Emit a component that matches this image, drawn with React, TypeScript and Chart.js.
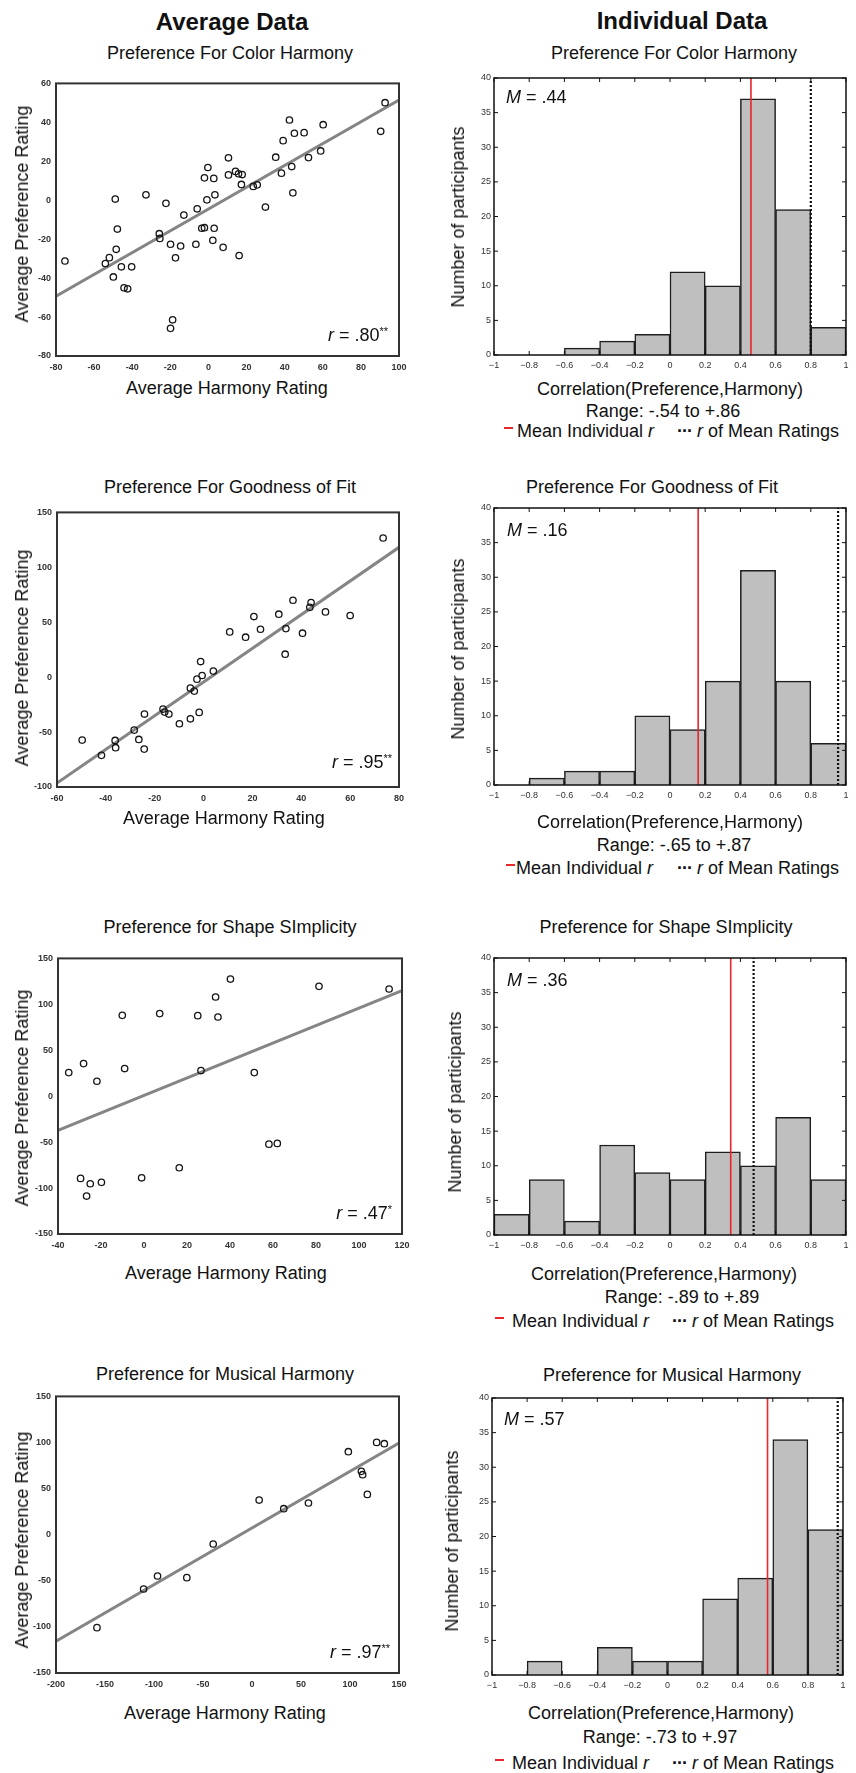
import React, { useEffect, useRef } from "react";
import { Chart, registerables } from "chart.js";
Chart.register(...registerables);

const FONT = "'Liberation Sans', Arial, Helvetica, sans-serif";

// ---------------- Average data (scatter) ----------------
const colorHarmonyX = [-75.3, 92.7, 90.4, 42.5, 60.2, 45.1, 50.2, 39.2, 58.9, 52.5, 35.3, 43.7, 38.3, 44.3, 29.9, 23.5, 25.6, 10.5, 10.5, 14.2, 15.8, 17.7, 17.3, -0.3, -2.1, 2.8, 3.4, -0.8, -5.9, -12.9, -22.3, -32.8, -48.9, -47.8, -25.8, -25.5, -19.9, -14.6, -17.3, -6.6, -3.5, -2.1, 3.0, 2.3, 7.7, 16.1, -48.4, -52.0, -54.1, -45.7, -40.3, -49.9, -44.3, -42.4, -18.8, -19.9];
const colorPreferenceY = [-31.2, 50.1, 35.4, 41.2, 38.8, 34.4, 34.7, 30.6, 25.3, 21.9, 22.1, 17.3, 13.9, 3.8, -3.5, 7.1, 7.9, 21.8, 13.0, 14.8, 13.6, 13.2, 8.1, 16.8, 11.5, 11.2, 2.8, 0.2, -4.4, -7.6, -1.6, 2.8, 0.6, -14.8, -17.2, -19.6, -22.6, -23.5, -29.6, -22.6, -14.4, -14.1, -14.4, -20.6, -24.2, -28.4, -25.2, -29.5, -32.5, -34.2, -34.2, -39.4, -45.0, -45.5, -61.4, -65.8];
const colorFitX = [-80, 100];
const colorFitY = [-49.3, 51.5];
const colorXTicks = [-80, -60, -40, -20, 0, 20, 40, 60, 80, 100];
const colorYTicks = [-80, -60, -40, -20, 0, 20, 40, 60];

const fitHarmonyX = [73.5, -49.7, -41.8, -36.2, -36.0, -28.4, -26.5, -24.3, -24.2, -16.6, -15.9, -14.2, -9.9, -5.4, -5.4, -3.8, -2.7, -1.8, -1.2, -0.6, 4.0, 10.7, 17.2, 20.6, 23.3, 30.8, 33.7, 33.4, 36.6, 40.5, 44.0, 43.5, 49.9, 60.0];
const fitPreferenceY = [126.7, -57.3, -71.2, -57.6, -64.2, -48.2, -56.7, -65.5, -33.6, -29.1, -31.8, -33.6, -42.4, -37.9, -10.0, -12.7, -1.8, -32.1, 14.2, 1.5, 5.5, 41.2, 36.4, 55.2, 43.6, 57.3, 44.2, 20.9, 70.0, 40.0, 67.9, 63.6, 59.4, 56.1];
const fitFitX = [-60, 80];
const fitFitY = [-96.4, 118.2];
const fitXTicks = [-60, -40, -20, 0, 20, 40, 60, 80];
const fitYTicks = [-100, -50, 0, 50, 100, 150];

const shapeHarmonyX = [-35.0, -28.1, -21.9, -10.1, -9.0, 7.3, 25.0, 26.5, 33.3, 34.4, 40.2, 51.3, 58.1, 62.0, 81.4, 114.0, -29.5, -25.0, -19.8, -26.7, -1.1, 16.4];
const shapePreferenceY = [25.7, 35.5, 16.3, 88.0, 30.1, 89.9, 87.7, 27.9, 108.0, 86.2, 127.5, 25.7, -52.2, -51.4, 119.6, 116.7, -89.5, -95.3, -93.8, -108.7, -88.8, -77.9];
const shapeFitX = [-40, 120];
const shapeFitY = [-37.3, 114.9];
const shapeXTicks = [-40, -20, 0, 20, 40, 60, 80, 100, 120];
const shapeYTicks = [-150, -100, -50, 0, 50, 100, 150];

const musicHarmonyX = [-158.2, -110.6, -96.4, -66.5, -39.6, 7.3, 32.4, 57.6, 98.3, 111.6, 112.9, 117.7, 127.2, 135.0];
const musicPreferenceY = [-100.8, -58.9, -44.8, -46.6, -10.1, 37.6, 28.2, 34.4, 90.0, 68.7, 65.1, 43.7, 100.1, 98.7];
const musicFitX = [-200, 150];
const musicFitY = [-115.6, 99.4];
const musicXTicks = [-200, -150, -100, -50, 0, 50, 100, 150];
const musicYTicks = [-150, -100, -50, 0, 50, 100, 150];

// ---------------- Individual data (histograms) ----------------
const binCenters = [-0.9, -0.7, -0.5, -0.3, -0.1, 0.1, 0.3, 0.5, 0.7, 0.9];
const histXTicks = [-1, -0.8, -0.6, -0.4, -0.2, 0, 0.2, 0.4, 0.6, 0.8, 1];
const histYTicks = [0, 5, 10, 15, 20, 25, 30, 35, 40];

const colorCounts = [0, 0, 1, 2, 3, 12, 10, 37, 21, 4];
const fitCounts = [0, 1, 2, 2, 10, 8, 15, 31, 15, 6];
const shapeCounts = [3, 8, 2, 13, 9, 8, 12, 10, 17, 8];
const musicCounts = [0, 2, 0, 4, 2, 2, 11, 14, 34, 21];

const meanIndividualR = [0.46, 0.16, 0.345, 0.57];
const rOfMeanRatings = [0.8, 0.955, 0.475, 0.97];

const framePlugin = {
  id: "frame",
  afterDatasetsDraw(chart: any, _args: any, opts: any) {
    const { ctx, chartArea: a } = chart;
    ctx.save();
    ctx.strokeStyle = opts.color || "#222";
    ctx.lineWidth = opts.width || 1.5;
    ctx.strokeRect(a.left, a.top, a.right - a.left, a.bottom - a.top);
    if (opts.ticks) {
      const xs = chart.scales.x;
      const ys = chart.scales.y;
      ctx.lineWidth = 1;
      ctx.beginPath();
      xs.ticks.forEach((t: any) => {
        const px = xs.getPixelForValue(t.value);
        ctx.moveTo(px, a.top);
        ctx.lineTo(px, a.top + 4);
        ctx.moveTo(px, a.bottom);
        ctx.lineTo(px, a.bottom - 4);
      });
      ys.ticks.forEach((t: any) => {
        const py = ys.getPixelForValue(t.value);
        ctx.moveTo(a.left, py);
        ctx.lineTo(a.left + 4, py);
        ctx.moveTo(a.right, py);
        ctx.lineTo(a.right - 4, py);
      });
      ctx.stroke();
    }
    ctx.restore();
  },
};

type Box = { L: number; R: number; T: number; B: number };

const PAD_TOP = 10;
const X_H = 22;

function ScatterChart(props: {
  box: Box;
  xs: number[];
  ys: number[];
  fx: number[];
  fy: number[];
  xTicks: number[];
  yTicks: number[];
}) {
  const ref = useRef<HTMLCanvasElement>(null);
  const { box } = props;
  const W = 430;
  const H = box.B - box.T + PAD_TOP + X_H;
  useEffect(() => {
    const { xs, ys, fx, fy, xTicks, yTicks } = props;
    const chart = new Chart(ref.current as HTMLCanvasElement, {
      type: "scatter",
      data: {
        datasets: [
          {
            type: "line",
            data: fx.map((x, i) => ({ x, y: fy[i] })),
            borderColor: "#858585",
            borderWidth: 3,
            pointRadius: 0,
            order: 2,
          } as any,
          {
            type: "scatter",
            data: xs.map((x, i) => ({ x, y: ys[i] })),
            pointRadius: 3.2,
            borderColor: "#151515",
            borderWidth: 1.3,
            backgroundColor: "rgba(0,0,0,0)",
            order: 1,
          } as any,
        ],
      },
      options: {
        responsive: false,
        maintainAspectRatio: false,
        animation: false,
        events: [],
        layout: { padding: { left: 0, top: PAD_TOP, right: W - box.R, bottom: 0 } },
        plugins: {
          legend: { display: false },
          tooltip: { enabled: false },
          frame: { color: "#333", width: 2 },
        } as any,
        scales: {
          x: {
            type: "linear",
            min: xTicks[0],
            max: xTicks[xTicks.length - 1],
            grid: { display: false, drawTicks: false },
            border: { display: false },
            ticks: {
              color: "#333",
              font: { family: FONT, size: 9, weight: "bold" },
              padding: 6,
              maxRotation: 0,
              autoSkip: false,
            },
            afterBuildTicks: (s: any) => {
              s.ticks = xTicks.map((v) => ({ value: v }));
            },
            afterFit: (s: any) => {
              s.height = X_H;
            },
          },
          y: {
            type: "linear",
            min: yTicks[0],
            max: yTicks[yTicks.length - 1],
            grid: { display: false, drawTicks: false },
            border: { display: false },
            ticks: {
              color: "#333",
              font: { family: FONT, size: 9, weight: "bold" },
              padding: 5,
              autoSkip: false,
            },
            afterBuildTicks: (s: any) => {
              s.ticks = yTicks.map((v) => ({ value: v }));
            },
            afterFit: (s: any) => {
              s.width = box.L;
            },
          },
        } as any,
      },
      plugins: [framePlugin],
    });
    return () => chart.destroy();
  }, []);
  return (
    <canvas
      ref={ref}
      width={W}
      height={H}
      style={{ position: "absolute", left: 0, top: box.T - PAD_TOP, width: W, height: H }}
    />
  );
}

function fmtHist(v: number) {
  if (v === 0) return "0";
  const s = String(Math.round(Math.abs(v) * 10) / 10);
  return v < 0 ? "\u2212" + s : s;
}

function HistChart(props: { box: Box; counts: number[]; meanR: number; rMean: number }) {
  const ref = useRef<HTMLCanvasElement>(null);
  const { box } = props;
  const X0 = 430;
  const W = 426;
  const H = box.B - box.T + PAD_TOP + X_H;
  useEffect(() => {
    const { counts, meanR, rMean } = props;
    const chart = new Chart(ref.current as HTMLCanvasElement, {
      type: "bar",
      data: {
        datasets: [
          {
            type: "line",
            data: [
              { x: rMean, y: 0 },
              { x: rMean, y: 40 },
            ],
            borderColor: "#111",
            borderWidth: 2.2,
            borderDash: [2, 2],
            pointRadius: 0,
            order: 0,
          } as any,
          {
            type: "line",
            data: [
              { x: meanR, y: 0 },
              { x: meanR, y: 40 },
            ],
            borderColor: "#e8262b",
            borderWidth: 1.6,
            pointRadius: 0,
            order: 1,
          } as any,
          {
            type: "bar",
            data: binCenters.map((x, i) => ({ x, y: counts[i] })),
            backgroundColor: "#bfbfbf",
            borderColor: "#1e1e1e",
            borderWidth: 1.5,
            borderSkipped: "bottom",
            barPercentage: 1,
            categoryPercentage: 1,
            order: 2,
          } as any,
        ],
      },
      options: {
        responsive: false,
        maintainAspectRatio: false,
        animation: false,
        events: [],
        layout: { padding: { left: 0, top: PAD_TOP, right: W - (box.R - X0), bottom: 0 } },
        plugins: {
          legend: { display: false },
          tooltip: { enabled: false },
          frame: { color: "#111", width: 1.5, ticks: true },
        } as any,
        scales: {
          x: {
            type: "linear",
            offset: false,
            min: -1,
            max: 1,
            grid: { display: false, drawTicks: false, offset: false },
            border: { display: false },
            ticks: {
              color: "#333",
              font: { family: FONT, size: 9 },
              padding: 5,
              maxRotation: 0,
              autoSkip: false,
              callback: (v: any) => fmtHist(Number(v)),
            },
            afterBuildTicks: (s: any) => {
              s.ticks = histXTicks.map((v) => ({ value: v }));
            },
            afterFit: (s: any) => {
              s.height = X_H;
            },
          },
          y: {
            type: "linear",
            min: 0,
            max: 40,
            grid: { display: false, drawTicks: false },
            border: { display: false },
            ticks: {
              color: "#333",
              font: { family: FONT, size: 9 },
              padding: 3,
              autoSkip: false,
            },
            afterBuildTicks: (s: any) => {
              s.ticks = histYTicks.map((v) => ({ value: v }));
            },
            afterFit: (s: any) => {
              s.width = box.L - X0;
            },
          },
        } as any,
      },
      plugins: [framePlugin],
    });
    return () => chart.destroy();
  }, []);
  return (
    <canvas
      ref={ref}
      width={W}
      height={H}
      style={{ position: "absolute", left: X0, top: box.T - PAD_TOP, width: W, height: H }}
    />
  );
}

type Align = "center" | "left" | "right" | "rot";
function Txt(props: {
  x: number;
  y: number;
  size?: number;
  bold?: boolean;
  align?: Align;
  children: any;
}) {
  const { x, y, size = 18, bold = false, align = "center", children } = props;
  let transform = "translate(-50%, -50%)";
  if (align === "left") transform = "translate(0, -50%)";
  if (align === "right") transform = "translate(-100%, -50%)";
  if (align === "rot") transform = "translate(-50%, -50%) rotate(-90deg)";
  return (
    <div
      style={{
        position: "absolute",
        left: x,
        top: y,
        transform,
        whiteSpace: "nowrap",
        fontFamily: FONT,
        fontSize: size,
        fontWeight: bold ? "bold" : "normal",
        lineHeight: 1,
        color: "#111",
      }}
    >
      {children}
    </div>
  );
}

const scatterBoxes: Box[] = [
  { L: 56, R: 399, T: 83, B: 356 },
  { L: 57, R: 399, T: 512, B: 787 },
  { L: 58, R: 402, T: 958, B: 1234 },
  { L: 56, R: 399, T: 1396, B: 1673 },
];
const histBoxes: Box[] = [
  { L: 494, R: 846, T: 78, B: 355 },
  { L: 494, R: 846, T: 508, B: 785 },
  { L: 494, R: 846, T: 958, B: 1235 },
  { L: 492, R: 843, T: 1398, B: 1675 },
];

const panelTitles = [
  "Preference For Color Harmony",
  "Preference For Goodness of Fit",
  "Preference for Shape SImplicity",
  "Preference for Musical Harmony",
];
const rValues = [".80", ".95", ".47", ".97"];
const rStars = ["**", "**", "*", "**"];
const mValues = [".44", ".16", ".36", ".57"];
const rangeLabels = ["-.54 to +.86", "-.65 to +.87", "-.89 to +.89", "-.73 to +.97"];

// text placements
const leftTitlePos = [[230, 53], [230, 487], [230, 927], [225, 1374]];
const rightTitlePos = [[674, 53], [652, 487], [666, 927], [672, 1375]];
const leftXTitlePos = [[227, 388], [224, 818], [226, 1273], [225, 1713]];
const leftYTitlePos = [[22, 214], [22, 658], [22, 1098], [22, 1540]];
const histXTitlePos = [[670, 389], [670, 822], [664, 1274], [661, 1713]];
const rangePos = [[663, 411], [674, 845], [682, 1297], [660, 1737]];
const legendPos = [[504, 517, 677, 431], [506, 516, 677, 868], [495, 512, 672, 1321], [495, 512, 672, 1763]];
const histYTitlePos = [[458, 217], [458, 649], [455, 1102], [452, 1541]];
const mPos = [[506, 97], [507, 530], [507, 980], [504, 1419]];
const rPos = [[388, 335], [392, 762], [392, 1213], [390, 1652]];

export default function App() {
  const scatters = [
    { xs: colorHarmonyX, ys: colorPreferenceY, fx: colorFitX, fy: colorFitY, xt: colorXTicks, yt: colorYTicks },
    { xs: fitHarmonyX, ys: fitPreferenceY, fx: fitFitX, fy: fitFitY, xt: fitXTicks, yt: fitYTicks },
    { xs: shapeHarmonyX, ys: shapePreferenceY, fx: shapeFitX, fy: shapeFitY, xt: shapeXTicks, yt: shapeYTicks },
    { xs: musicHarmonyX, ys: musicPreferenceY, fx: musicFitX, fy: musicFitY, xt: musicXTicks, yt: musicYTicks },
  ];
  const hists = [colorCounts, fitCounts, shapeCounts, musicCounts];
  return (
    <div style={{ position: "absolute", left: 0, top: 0, width: 856, height: 1773, background: "#fff", overflow: "hidden" }}>
      <Txt x={232} y={22} size={24} bold>
        Average Data
      </Txt>
      <Txt x={682} y={21} size={24} bold>
        Individual Data
      </Txt>
      {scatters.map((s, i) => (
        <React.Fragment key={"s" + i}>
          <ScatterChart box={scatterBoxes[i]} xs={s.xs} ys={s.ys} fx={s.fx} fy={s.fy} xTicks={s.xt} yTicks={s.yt} />
          <Txt x={leftTitlePos[i][0]} y={leftTitlePos[i][1]}>
            {panelTitles[i]}
          </Txt>
          <Txt x={leftXTitlePos[i][0]} y={leftXTitlePos[i][1]}>
            Average Harmony Rating
          </Txt>
          <Txt x={leftYTitlePos[i][0]} y={leftYTitlePos[i][1]} align="rot">
            Average Preference Rating
          </Txt>
          <Txt x={rPos[i][0]} y={rPos[i][1]} align="right">
            <i>r</i> = {rValues[i]}
            <sup style={{ fontSize: 11, verticalAlign: "6px" }}>{rStars[i]}</sup>
          </Txt>
        </React.Fragment>
      ))}
      {hists.map((c, i) => (
        <React.Fragment key={"h" + i}>
          <HistChart box={histBoxes[i]} counts={c} meanR={meanIndividualR[i]} rMean={rOfMeanRatings[i]} />
          <Txt x={rightTitlePos[i][0]} y={rightTitlePos[i][1]}>
            {panelTitles[i]}
          </Txt>
          <Txt x={histXTitlePos[i][0]} y={histXTitlePos[i][1]}>
            Correlation(Preference,Harmony)
          </Txt>
          <Txt x={rangePos[i][0]} y={rangePos[i][1]}>
            Range: {rangeLabels[i]}
          </Txt>
          <Txt x={histYTitlePos[i][0]} y={histYTitlePos[i][1]} align="rot">
            Number of participants
          </Txt>
          <Txt x={mPos[i][0]} y={mPos[i][1]} align="left">
            <i>M</i> = {mValues[i]}
          </Txt>
          <div
            style={{
              position: "absolute",
              left: legendPos[i][0],
              top: legendPos[i][3] - 4,
              width: 9,
              height: 2,
              background: "#e8262b",
            }}
          />
          <Txt x={legendPos[i][1]} y={legendPos[i][3]} align="left">
            Mean Individual <i>r</i>
          </Txt>
          <Txt x={legendPos[i][2]} y={legendPos[i][3]} align="left">
            <b style={{ letterSpacing: -1 }}>···</b> <i>r</i> of Mean Ratings
          </Txt>
        </React.Fragment>
      ))}
    </div>
  );
}
